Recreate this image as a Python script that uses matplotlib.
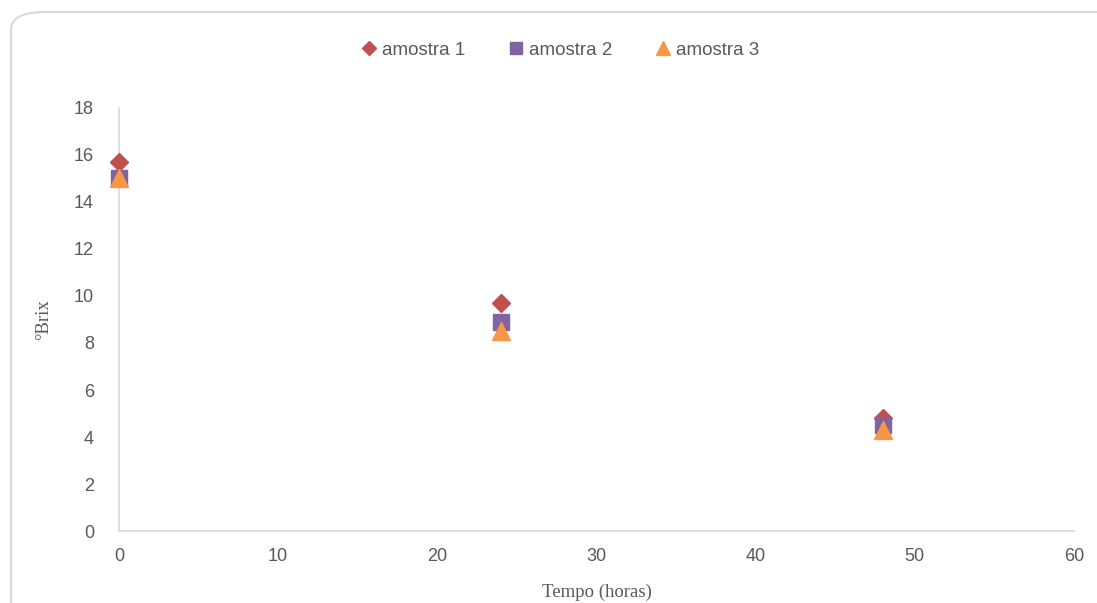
import matplotlib
matplotlib.use('Agg')
import matplotlib.pyplot as plt
from matplotlib.patches import FancyBboxPatch

# data
tempo = [0, 24, 48]
amostra1 = [15.7, 9.7, 4.8]
amostra2 = [15.0, 8.9, 4.5]
amostra3 = [15.0, 8.5, 4.3]
series_names = ['amostra 1', 'amostra 2', 'amostra 3']

gray = '#595959'

fig = plt.figure(figsize=(10.97, 6.03), dpi=100)

# rounded chart border
border = FancyBboxPatch((0.010, -0.05), 1.05, 1.03,
                        boxstyle='round,pad=0,rounding_size=0.03',
                        transform=fig.transFigure, facecolor='none',
                        edgecolor='#d9d9d9', linewidth=1.5, zorder=-1)
fig.patches.append(border)

ax = fig.add_axes([0.1085, 0.1194, 0.8705, 0.7015])
ax.set_facecolor('none')

ax.plot(tempo, amostra1, linestyle='none', marker='D', markersize=9,
        color='#C0504D', label=series_names[0], zorder=3)
ax.plot(tempo, amostra2, linestyle='none', marker='s', markersize=12,
        color='#8064A2', label=series_names[1], zorder=4)
ax.plot(tempo, amostra3, linestyle='none', marker='^', markersize=13,
        color='#F79646', label=series_names[2], zorder=5)

ax.set_xlim(0, 60)
ax.set_ylim(0, 18)
ax.set_xticks(range(0, 61, 10))
ax.set_yticks(range(0, 19, 2))

for side in ['top', 'right']:
    ax.spines[side].set_visible(False)
for side in ['left', 'bottom']:
    ax.spines[side].set_color('#d9d9d9')
    ax.spines[side].set_linewidth(1.2)
for ln in ax.lines:
    ln.set_clip_on(False)

ax.tick_params(axis='both', length=0, colors=gray, labelsize=13)
ax.tick_params(axis='y', pad=18)
ax.tick_params(axis='x', pad=12)
for lab in ax.get_xticklabels() + ax.get_yticklabels():
    lab.set_family('Liberation Sans')

ax.set_xlabel('Tempo (horas)', family='Liberation Serif', fontsize=13.5,
              color=gray, labelpad=14)
ax.set_ylabel('°Brix', family='Liberation Serif', fontsize=13.5,
              color=gray, labelpad=16)

leg = fig.legend(loc='center', bbox_to_anchor=(0.509, 0.917), ncol=3,
                 frameon=False, fontsize=13.5, handletextpad=0.1,
                 columnspacing=2.1, markerscale=0.75, handlelength=1.2)
for t in leg.get_texts():
    t.set_color(gray)
    t.set_family('Liberation Sans')

fig.savefig('out.png', dpi=100)
